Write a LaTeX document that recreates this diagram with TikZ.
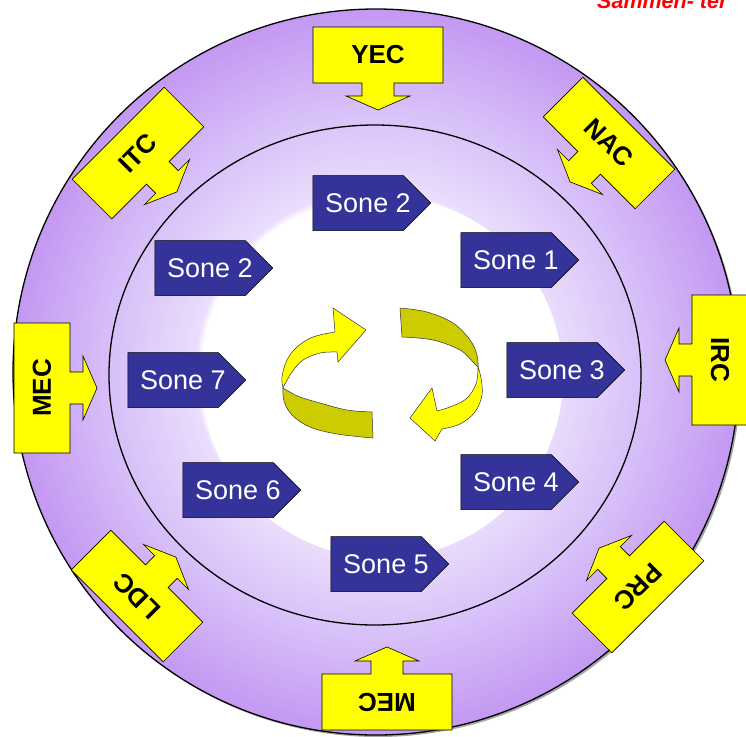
\documentclass[tikz,border=0pt]{standalone}
\usepackage{fontspec}
\setmainfont{Liberation Sans}
\setsansfont{Liberation Sans}
\usetikzlibrary{shapes.symbols}
\definecolor{sonefill}{HTML}{333399}
\definecolor{callyellow}{HTML}{FFFF00}
\definecolor{darkyellow}{HTML}{CCCC00}
\definecolor{lavA}{HTML}{EADDFC}
\definecolor{lavB}{HTML}{DAC4F9}
\definecolor{lavC}{HTML}{C398F2}
\pgfdeclareradialshading{ringshade}{\pgfpoint{0bp}{0bp}}{color(0bp)=(white); color(12bp)=(white); color(12.5bp)=(lavA); color(17.5bp)=(lavB); color(25bp)=(lavC); color(50bp)=(lavC)}
\tikzset{
  sonebox/.style={shape=signal, signal to=east, signal pointer angle=90, fill=sonefill, draw=black, line width=0.5pt,
    minimum width=118pt, minimum height=55pt, inner sep=0pt},
  sonetext/.style={text=white, inner sep=0pt, font=\fontsize{27}{27}\selectfont\sffamily},
  callbox/.style={fill=callyellow, draw=black, line width=0.6pt, line join=miter},
  calltext/.style={font=\fontsize{26}{26}\selectfont\bfseries\sffamily, text=black, inner sep=0pt},
  ribbonlight/.style={fill=callyellow, draw=black!80, line width=0.5pt},
  ribbondark/.style={fill=darkyellow, draw=black!80, line width=0.5pt}
}
\newcommand{\yellowcallout}[5]{%
  \begin{scope}[shift={(#2,#3)}, rotate=#4]
    \draw[callbox] (-65,-28) -- (65,-28) -- (65,28) -- (16,28) -- (16,41) -- (32,41) -- (0,55) -- (-32,41) -- (-16,41) -- (-16,28) -- (-65,28) -- cycle;
  \end{scope}
  \node[calltext, rotate=#4] (#1) at (#2,#3) {#5};
}
\newcommand{\sonezone}[4]{% name, left x, center y, text
  \node[sonebox] (#1) at (#2+45,#3) {};
  \node[sonetext] (#1t) at ([xshift=10pt]#1.center) {#4};
}
\begin{document}
\begin{tikzpicture}[x=1pt,y=-1pt]
\useasboundingbox (0,0) rectangle (746,736);
\clip (0,0) rectangle (746,736);
% rings
\fill[black!35] (378,374) circle (363pt);
\shade[shading=ringshade] (376,372) circle (363pt);
\fill[white] (382,377) circle (181pt);
\draw[line width=1.3pt] (376,372) circle (363pt);
\draw[line width=1.3pt] (375,375) ellipse [x radius=266pt, y radius=250pt];
% callouts
\yellowcallout{yec}{378}{55}{0}{YEC}
\yellowcallout{nac}{609}{143}{-45}{NAC}
\yellowcallout{irc}{720}{360}{-90}{IRC}
\yellowcallout{prc}{638}{587}{-135}{PRC}
\yellowcallout{mecb}{387}{702}{180}{MEC}
\yellowcallout{ldc}{137}{596}{135}{LDC}
\yellowcallout{mecl}{42}{388}{90}{MEC}
\yellowcallout{itc}{138}{153}{45}{ITC}
% zones
\sonezone{s2a}{313}{203}{Sone 2}
\sonezone{s1}{461}{260}{Sone 1}
\sonezone{s2b}{155}{268}{Sone 2}
\sonezone{s3}{507}{370}{Sone 3}
\sonezone{s7}{128}{380}{Sone 7}
\sonezone{s4}{461}{482}{Sone 4}
\sonezone{s6}{183}{490}{Sone 6}
\sonezone{s5}{331}{564}{Sone 5}
% left circular arrow
\path[ribbondark] (283,388) -- plot[smooth, tension=0.6] coordinates {(283,388) (284,401) (292,415) (310,427) (337,434) (373,438)}
  -- (372,412) -- plot[smooth, tension=0.6] coordinates {(372,412) (347,410) (320,403) (300,397) (288,391) (283,388)} -- cycle;
\path[ribbonlight] (283,388) -- plot[smooth, tension=0.6] coordinates {(283,388) (282,377) (287,360) (297,347) (313,337) (335,332)}
  -- (333,308) -- (366,330) -- (338,362) -- plot[smooth, tension=0.6] coordinates {(337,352) (320,353) (303,360) (292,372) (285,384) (283,388)} -- cycle;
% right circular arrow
\path[ribbondark] (478,367) -- plot[smooth, tension=0.6] coordinates {(478,367) (477,355) (470,340) (453,323) (427,312) (400,308)}
  -- (402,337) -- plot[smooth, tension=0.6] coordinates {(402,337) (433,340) (460,350) (473,362) (478,367)} -- cycle;
\path[ribbonlight] (478,367) -- plot[smooth, tension=0.6] coordinates {(478,367) (476,384) (466,399) (450,407) (437,411)}
  -- (432,388) -- (410,418) -- (435,441) -- plot[smooth, tension=0.6] coordinates {(442,429) (460,424) (475,412) (482,395) (481,378) (478,367)} -- cycle;
% clipped title
\node[anchor=base west, inner sep=0pt, text=red, font=\fontsize{21.5}{21.5}\selectfont\bfseries\itshape\sffamily] (title) at (597,9) {Sammen- ter};
\end{tikzpicture}
\end{document}
